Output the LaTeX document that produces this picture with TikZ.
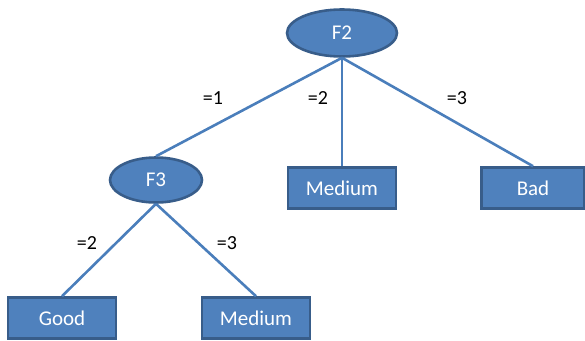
\documentclass[tikz,border=0pt]{standalone}
\usepackage{fontspec}
\setmainfont{Carlito}
\usetikzlibrary{shapes.geometric}

\definecolor{nodeblue}{RGB}{79,129,189}
\definecolor{nodeedge}{RGB}{56,93,138}
\definecolor{lineblue}{RGB}{74,126,187}

\begin{document}
\begin{tikzpicture}[x=1pt,y=-1pt,
    feature/.style={ellipse,draw=nodeedge,line width=2.6pt,fill=nodeblue,
      text=white,minimum width=110pt,minimum height=47pt,inner sep=0pt,
      font=\fontsize{21}{25}\selectfont},
    leaf/.style={rectangle,draw=nodeedge,line width=2.6pt,fill=nodeblue,
      text=white,minimum width=108pt,minimum height=41pt,inner sep=0pt,
      font=\fontsize{21}{25}\selectfont},
    branch/.style={draw=lineblue,line width=2.6pt},
    value/.style={font=\fontsize{20}{24}\selectfont}]
    \useasboundingbox (0,0) rectangle (585,340);
    % features
    \node[feature] (f2) at (342,33) {F2};
    \node[feature,minimum width=92pt,minimum height=45pt] (f3) at (156,180) {F3};
    % leaves
    \node[leaf] (mid1) at (342,188) {Medium};
    \node[leaf,minimum width=103pt] (bad) at (533,188) {Bad};
    \node[leaf] (good) at (62,318) {Good};
    \node[leaf] (mid2) at (256,318) {Medium};
    % branches
    \draw[branch] (f2.south) -- (f3.north);
    \draw[branch] (f2.south) -- (mid1.north);
    \draw[branch] (f2.south) -- (bad.north);
    \draw[branch] (f3.south) -- (good.north);
    \draw[branch] (f3.south) -- (mid2.north);
    % values
    \node[value] (v1) at (213,98) {=1};
    \node[value] (v2) at (318,98) {=2};
    \node[value] (v3) at (457,98) {=3};
    \node[value] (v4) at (87,243) {=2};
    \node[value] (v5) at (227,243) {=3};
\end{tikzpicture}
\end{document}
